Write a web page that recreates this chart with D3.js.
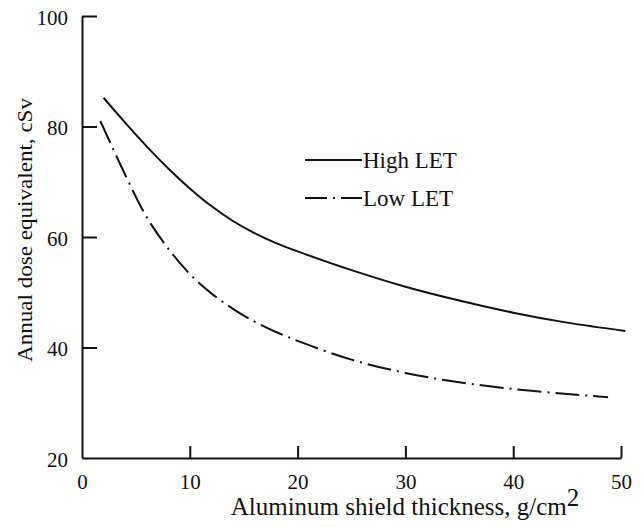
<!DOCTYPE html>
<html>
<head>
<meta charset="utf-8">
<script src="https://cdn.jsdelivr.net/npm/d3@7/dist/d3.min.js"></script>
<style>
  html, body { margin: 0; padding: 0; background: #fff; }
  svg { display: block; }
  text { font-family: "Liberation Serif", "Times New Roman", serif; fill: #111; }
</style>
</head>
<body>
<svg id="chart" width="642" height="527"></svg>
<script>
// Shield thickness (g/cm^2) and annual dose equivalent (cSv)
const highX = [2, 4, 6, 8, 10, 12, 14, 16, 18, 20, 25, 30, 35, 40, 45, 50.4];
const highY = [85.2, 80.7, 76.4, 72.4, 68.8, 65.6, 62.9, 60.7, 58.9, 57.4, 54.0, 51.0, 48.5, 46.3, 44.5, 43.0];
const lowX = [1.7, 4, 6, 8, 10, 12, 14, 16, 18, 20, 25, 30, 35, 40, 45, 48.8];
const lowY = [81.0, 71.3, 63.6, 57.9, 53.3, 49.8, 47.0, 44.7, 42.8, 41.2, 37.8, 35.4, 33.7, 32.5, 31.6, 31.0];
const xTicks = [0, 10, 20, 30, 40, 50];
const yTicks = [20, 40, 60, 80, 100];
const seriesNames = ["High LET", "Low LET"];

const serif = '"Liberation Serif", "Times New Roman", serif';
const svg = d3.select("#chart");
const x = d3.scaleLinear().domain([0, 50]).range([82, 621]);
const y = d3.scaleLinear().domain([20, 100]).range([458, 16]);

// Axes: ticks point inward
const xAxis = d3.axisBottom(x).tickValues(xTicks).tickSize(-12).tickPadding(16).tickSizeOuter(0);
const yAxis = d3.axisLeft(y).tickValues(yTicks).tickSize(-15).tickPadding(14).tickSizeOuter(0);

const gx = svg.append("g").attr("transform", `translate(0,${y(20)})`).call(xAxis);
const gy = svg.append("g").attr("transform", `translate(${x(0)},0)`).call(yAxis);

[gx, gy].forEach(g => {
  g.attr("font-family", serif).attr("font-size", 21);
  g.select(".domain").attr("stroke", "#111").attr("stroke-width", 2);
  g.selectAll(".tick line").attr("stroke", "#111").attr("stroke-width", 2);
  g.selectAll(".tick text").style("font-family", serif).style("font-size", "21px").attr("fill", "#111");
});
gx.selectAll(".tick text").attr("dy", "0.71em");
gx.selectAll(".tick").filter(d => d === 0).select("line").remove();
gy.selectAll(".tick").filter(d => d === 20).select("line").remove();
gy.selectAll(".tick text").attr("dy", "0.4em");

// Curves
const line = d3.line().x(d => x(d[0])).y(d => y(d[1])).curve(d3.curveCatmullRom.alpha(0.5));
const highData = highX.map((v, i) => [v, highY[i]]);
const lowData = lowX.map((v, i) => [v, lowY[i]]);

svg.append("path").datum(highData).attr("d", line)
  .attr("fill", "none").attr("stroke", "#111").attr("stroke-width", 2);
svg.append("path").datum(lowData).attr("d", line)
  .attr("fill", "none").attr("stroke", "#111").attr("stroke-width", 2)
  .attr("stroke-dasharray", "24,6,2,6");

// Legend
const legend = svg.append("g");
const legendRows = [
  { name: seriesNames[0], dash: null, y: 160 },
  { name: seriesNames[1], dash: "22,6,2,6", y: 198 }
];
legendRows.forEach(r => {
  legend.append("line").attr("x1", 305).attr("x2", 362).attr("y1", r.y).attr("y2", r.y)
    .attr("stroke", "#111").attr("stroke-width", 2)
    .attr("stroke-dasharray", r.dash);
  legend.append("text").attr("x", 363).attr("y", r.y + 8).style("font-size", "23px").text(r.name);
});

// Axis titles
const xt = svg.append("text").attr("x", 405).attr("y", 515).attr("text-anchor", "middle").style("font-size", "25px");
xt.append("tspan").text("Aluminum shield thickness, g/cm");
xt.append("tspan").attr("dy", -9).text("2");

svg.append("text")
  .attr("transform", `translate(32,230) rotate(-90)`)
  .attr("text-anchor", "middle").style("font-size", "22px")
  .attr("textLength", 264).attr("lengthAdjust", "spacingAndGlyphs")
  .text("Annual dose equivalent, cSv");
</script>
</body>
</html>
